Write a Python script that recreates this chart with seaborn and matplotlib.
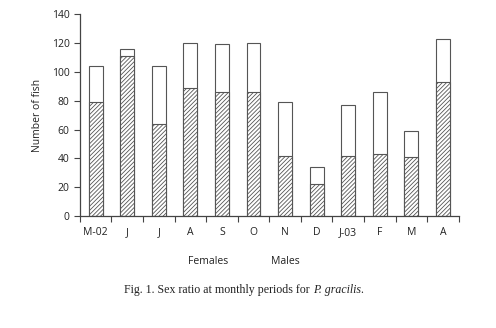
import pandas as pd
import seaborn as sns
import matplotlib.pyplot as plt

sns.set_theme(style="white")
plt.rcParams['font.family'] = ['Open Sans', 'DejaVu Sans']

months = ["M-02", "J", "J", "A", "S", "O", "N", "D", "J-03", "F", "M", "A"]
females = [79, 111, 64, 89, 86, 86, 42, 22, 42, 43, 41, 93]
totals = [104, 116, 104, 120, 119, 120, 79, 34, 77, 86, 59, 123]

df = pd.DataFrame({"month": range(len(months)), "females": females, "total": totals})

fig = plt.figure(figsize=(4.96, 3.28), dpi=100)
ax = fig.add_axes([0.161, 0.341, 0.764, 0.616])

plt.rcParams['hatch.color'] = '#555555'
plt.rcParams['hatch.linewidth'] = 0.6

# males stacked on top -> draw totals white, then females hatched over them
sns.barplot(data=df, x="month", y="total", color="white", edgecolor="#555555",
            linewidth=0.8, width=0.44, saturation=1, ax=ax, native_scale=True)
n = len(ax.patches)
sns.barplot(data=df, x="month", y="females", color="white", edgecolor="#555555",
            linewidth=0.8, width=0.44, saturation=1, ax=ax, native_scale=True)
for p in ax.patches[n:]:
    p.set_hatch("////////")

ax.set_xlim(-0.5, len(months) - 0.5)
ax.set_ylim(0, 140)
ax.set_yticks(range(0, 141, 20))
ax.set_xticks(range(len(months)))
ax.set_xticklabels(months)
ax.set_xticks([i - 0.5 for i in range(len(months) + 1)], minor=True)
ax.tick_params(axis="x", which="major", length=0, labelsize=7.5, pad=8, colors="#222222")
ax.tick_params(axis="x", which="minor", length=4, width=0.8, color="#444444", direction="out", bottom=True)
ax.tick_params(axis="y", length=4, width=0.8, color="#444444", direction="out", left=True,
               labelsize=7.5, colors="#222222")
ax.set_xlabel("")
ax.set_ylabel("Number of fish", fontsize=7.5, color="#222222", labelpad=6)
sns.despine(ax=ax)
for s in ["left", "bottom"]:
    ax.spines[s].set_color("#444444")
    ax.spines[s].set_linewidth(0.9)

fig.text(208 / 496, 1 - 261 / 328, "Females", ha="center", va="center", fontsize=7.5, color="#222222")
fig.text(285 / 496, 1 - 261 / 328, "Males", ha="center", va="center", fontsize=7.5, color="#222222")

# caption: roman part, italic species name, closing period
cap = dict(fontsize=8.6, family="Liberation Serif", color="#222222", va="baseline")
t1 = fig.text(124 / 496, 1 - 293 / 328, "Fig. 1. Sex ratio at monthly periods for ", ha="left", **cap)
t2 = fig.text(0, 0, "P. gracilis", ha="left", style="italic", **cap)
t2.set_transform(plt.matplotlib.transforms.offset_copy(t1.get_transform(), fig=fig, x=0, y=0))
fig.canvas.draw()
r = fig.canvas.get_renderer()
bb = t1.get_window_extent(r)
t2.set_transform(plt.matplotlib.transforms.IdentityTransform())
t2.set_position((bb.x1, t1.get_transform().transform(t1.get_position())[1]))
bb2 = t2.get_window_extent(r)
t3 = fig.text(0, 0, ".", ha="left", **cap)
t3.set_transform(plt.matplotlib.transforms.IdentityTransform())
t3.set_position((bb2.x1, t2.get_position()[1]))

fig.savefig("out.png", dpi=100)
